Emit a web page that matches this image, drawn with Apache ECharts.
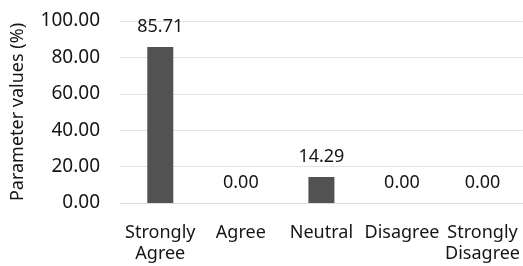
<!DOCTYPE html>
<html>
<head>
<meta charset="utf-8">
<script src="https://cdn.jsdelivr.net/npm/echarts@6/dist/echarts.min.js"></script>
<style>
  html, body { margin: 0; padding: 0; background: #fff; }
  #chart { width: 523px; height: 266px; }
</style>
</head>
<body>
<div id="chart"></div>
<script>
// data
const categories = ['Strongly\nAgree', 'Agree', 'Neutral', 'Disagree', 'Strongly\nDisagree'];
const values = [85.71, 0.00, 14.29, 0.00, 0.00];
const yTicks = [0, 20, 40, 60, 80, 100];

const font = 'Noto Sans';
const chart = echarts.init(document.getElementById('chart'));
chart.setOption({
  animation: false,
  textStyle: { fontFamily: font },
  grid: { left: 120, right: 0, top: 21, bottom: 63 },
  xAxis: {
    type: 'category',
    data: categories,
    axisLine: { lineStyle: { color: '#dcdcdc' } },
    axisTick: { show: false },
    axisLabel: { color: '#151515', fontSize: 18, lineHeight: 21, margin: 19, interval: 0, fontFamily: font }
  },
  yAxis: {
    type: 'value',
    min: yTicks[0],
    max: yTicks[yTicks.length - 1],
    interval: 20,
    name: 'Parameter values (%)',
    nameLocation: 'middle',
    nameGap: 93,
    nameTextStyle: { color: '#151515', fontSize: 18, fontFamily: font },
    axisLine: { show: false },
    axisTick: { show: false },
    splitLine: { lineStyle: { color: '#e2e2e2' } },
    axisLabel: {
      color: '#151515', fontSize: 19, margin: 20, fontFamily: font,
      formatter: v => v.toFixed(2)
    }
  },
  series: [{
    type: 'bar',
    data: values,
    barWidth: 26,
    itemStyle: { color: '#525252' },
    label: {
      show: true,
      position: 'top',
      distance: 11,
      color: '#151515',
      fontSize: 18,
      fontFamily: font,
      formatter: p => p.value.toFixed(2)
    }
  }]
});
</script>
</body>
</html>
